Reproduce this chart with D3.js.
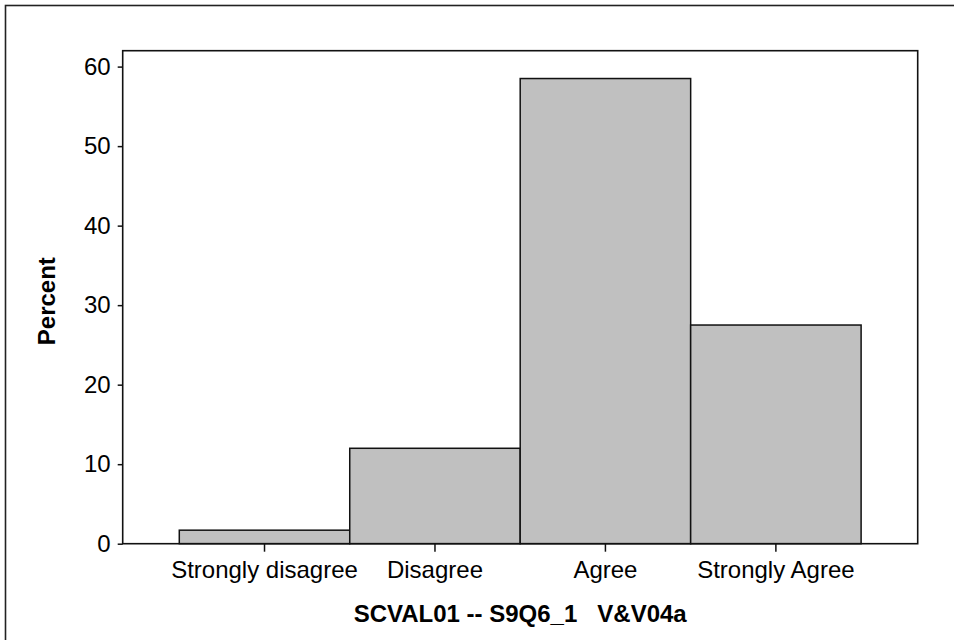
<!DOCTYPE html>
<html>
<head>
<meta charset="utf-8">
<script src="https://cdn.jsdelivr.net/npm/d3@7"></script>
<style>
  html, body { margin: 0; padding: 0; background: #fff; }
  svg { display: block; font-family: Arial, "Liberation Sans", sans-serif; }
</style>
</head>
<body>
<svg id="chart" width="954" height="640"></svg>
<script>
const categories = ["Strongly disagree", "Disagree", "Agree", "Strongly Agree"];
const percents = [1.7, 12.0, 58.5, 27.5];
const yTicks = [0, 10, 20, 30, 40, 50, 60];
const yLabel = "Percent";
const xLabel = "SCVAL01 -- S9Q6_1\u00a0\u00a0\u00a0V&V04a";

const svg = d3.select("#chart");
const W = 954, H = 640;
const plot = { left: 122.7, top: 50.7, right: 917.7, bottom: 543.7 };

// outer frame (right/bottom beyond the picture)
svg.append("rect")
  .attr("x", 5.5).attr("y", 5.5)
  .attr("width", W + 10).attr("height", H + 10)
  .attr("fill", "#fff").attr("stroke", "#222").attr("stroke-width", 1.6);

const x = d3.scaleBand()
  .domain(categories)
  .range([plot.left, plot.right])
  .paddingInner(0)
  .paddingOuter(0.332);

const y = d3.scaleLinear()
  .domain([0, 62])
  .range([plot.bottom, plot.top]);

// bars
svg.append("g").selectAll("rect")
  .data(categories.map((c, i) => ({ c, v: percents[i] })))
  .join("rect")
  .attr("x", d => x(d.c))
  .attr("y", d => y(d.v))
  .attr("width", x.bandwidth())
  .attr("height", d => y(0) - y(d.v))
  .attr("fill", "#c0c0c0")
  .attr("stroke", "#111")
  .attr("stroke-width", 1.5);

// plot frame
svg.append("rect")
  .attr("x", plot.left).attr("y", plot.top)
  .attr("width", plot.right - plot.left).attr("height", plot.bottom - plot.top)
  .attr("fill", "none").attr("stroke", "#111").attr("stroke-width", 1.6);

// y axis
const yAxis = svg.append("g")
  .attr("transform", `translate(${plot.left},0)`)
  .call(d3.axisLeft(y).tickValues(yTicks).tickSize(5).tickPadding(7).tickSizeOuter(0));
yAxis.select(".domain").remove();
yAxis.selectAll(".tick line").attr("stroke", "#111").attr("stroke-width", 1.5);
yAxis.selectAll(".tick text")
  .attr("fill", "#000")
  .style("font-size", "24px")
  .style("font-family", "Arial, 'Liberation Sans', sans-serif");

// x axis
const xAxis = svg.append("g")
  .attr("transform", `translate(0,${plot.bottom})`)
  .call(d3.axisBottom(x).tickSize(8).tickPadding(9).tickSizeOuter(0));
xAxis.select(".domain").remove();
xAxis.selectAll(".tick line").attr("stroke", "#111").attr("stroke-width", 1.5);
xAxis.selectAll(".tick text")
  .attr("fill", "#000")
  .style("font-size", "24px")
  .style("font-family", "Arial, 'Liberation Sans', sans-serif");

// axis titles
svg.append("text")
  .attr("transform", `translate(55,${(plot.top + plot.bottom) / 2 + 4}) rotate(-90)`)
  .attr("text-anchor", "middle")
  .style("font-size", "24px")
  .style("font-weight", "bold")
  .text(yLabel);

svg.append("text")
  .attr("x", (plot.left + plot.right) / 2)
  .attr("y", 622)
  .attr("text-anchor", "middle")
  .style("font-size", "24px")
  .style("font-weight", "bold")
  .text(xLabel);
</script>
</body>
</html>
